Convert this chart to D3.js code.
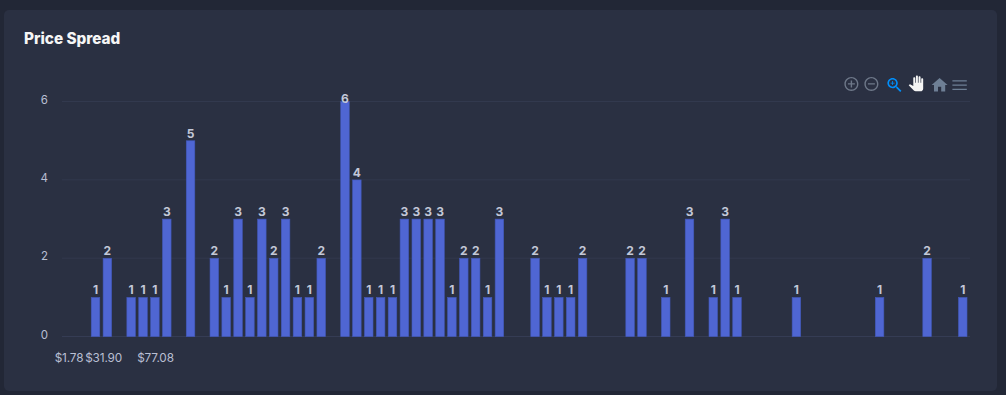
<!DOCTYPE html>
<html lang="en">

<head>
    <meta charset="utf-8">
    <script src="https://d3js.org/d3.v7.min.js"></script>
    <style>
        html, body {
            margin: 0;
            background: #222736;
            overflow: hidden;
        }
        text {
            font-family: "Inter", "Open Sans", sans-serif;
        }
    </style>
</head>

<body>
    <script>
        // number of listings per price bin, zero bins are gaps in the chart
        const counts = [1, 2, 0, 1, 1, 1, 3, 0, 5, 0, 2, 1, 3, 1, 3, 2, 3, 1, 1, 2, 0, 6, 4, 1, 1, 1, 3, 3, 3, 3, 1, 2, 2, 1, 3, 0, 0, 2, 1, 1, 1, 2, 0, 0, 0, 2, 2, 0, 1, 0, 3, 0, 1, 3, 1, 0, 0, 0, 0, 1, 0, 0, 0, 0, 0, 0, 1, 0, 0, 0, 2, 0, 0, 1];
        const priceTicks = [1.78, 31.90, 77.08];
        const yTicks = [0, 2, 4, 6];
        const title = "Price Spread";

        const width = 1006;
        const height = 395;

        const svg = d3.select("body").append("svg")
            .attr("width", width)
            .attr("height", height)
            .style("display", "block");

        // card
        svg.append("rect")
            .attr("x", 4).attr("y", 10)
            .attr("width", 993).attr("height", 381)
            .attr("rx", 5)
            .attr("fill", "#2a3042");

        svg.append("text")
            .attr("x", 24).attr("y", 44)
            .attr("font-size", 15.3)
            .attr("font-weight", 800)
            .attr("fill", "#f6f6f6")
            .text(title);

        const x = d3.scaleBand()
            .domain(d3.range(counts.length))
            .range([89.56, 968.68])
            .paddingInner(0.28)
            .paddingOuter(0.14);

        const y = d3.scaleLinear().domain([0, 6]).range([336, 101]);
        // bars start half a pixel under the gridlines
        const yBar = d3.scaleLinear().domain([0, 6]).range([336.6, 101.6]);

        // tick labels sit on a price scale, not on the bins
        const xPrice = d3.scaleLinear().domain([1.78, 77.08]).range([68.5, 155]);

        const gridLeft = 62;
        const gridRight = 970;

        svg.append("g")
            .selectAll("line")
            .data(yTicks)
            .enter()
            .append("line")
            .attr("x1", gridLeft)
            .attr("x2", gridRight)
            .attr("y1", d => y(d) + 0.5)
            .attr("y2", d => y(d) + 0.5)
            .attr("stroke", d => d === 0 ? "#353c54" : "#32394e");

        const yAxis = d3.axisLeft(y).tickValues(yTicks).tickFormat(d3.format("d")).tickSize(0).tickPadding(0);
        const yG = svg.append("g")
            .attr("transform", "translate(48,0)")
            .call(yAxis);
        yG.select(".domain").remove();
        yG.selectAll("text")
            .attr("font-size", 11.5)
            .attr("fill", "#b9bfd3")
            .attr("dy", "0.2em");

        const xAxis = d3.axisBottom(xPrice)
            .tickValues(priceTicks)
            .tickFormat(d => "$" + d.toFixed(2))
            .tickSize(0)
            .tickPadding(0);
        const xG = svg.append("g")
            .attr("transform", "translate(0,354)")
            .call(xAxis);
        xG.select(".domain").remove();
        xG.selectAll("text")
            .attr("font-size", 11.8)
            .attr("letter-spacing", -0.15)
            .attr("fill", "#b9bfd3");

        const bars = counts.map((d, i) => ({ i: i, v: d })).filter(d => d.v > 0);

        svg.append("g")
            .selectAll("rect")
            .data(bars)
            .enter()
            .append("rect")
            .attr("x", d => x(d.i))
            .attr("y", d => yBar(d.v))
            .attr("width", x.bandwidth())
            .attr("height", d => yBar(0) - yBar(d.v))
            .attr("fill", "#4f66d3")
            .attr("stroke", "#4258b8")
            .attr("stroke-width", 0.6);

        // labels stay inside the plot, the tallest bar's label drops onto the bar
        svg.append("g")
            .selectAll("text")
            .data(bars)
            .enter()
            .append("text")
            .attr("x", d => x(d.i) + x.bandwidth() / 2)
            .attr("y", d => Math.max(y(d.v) - 2.5, y(6) + 1.5))
            .attr("text-anchor", "middle")
            .attr("font-size", 12)
            .attr("font-weight", 700)
            .attr("fill", "#c3c8d8")
            .text(d => d.v);

        // toolbar icons, 24 unit material paths
        const toolbar = [
            { x: 843, s: 0.7, fill: "#6e7889", d: "M13 7h-2v4H7v2h4v4h2v-4h4v-2h-4V7zm-1-5C6.48 2 2 6.48 2 12s4.48 10 10 10 10-4.48 10-10S17.52 2 12 2zm0 18c-4.41 0-8-3.59-8-8s3.59-8 8-8 8 3.59 8 8-3.59 8-8 8z" },
            { x: 863, s: 0.7, fill: "#6e7889", d: "M7 11v2h10v-2H7zm5-9C6.48 2 2 6.48 2 12s4.48 10 10 10 10-4.48 10-10S17.52 2 12 2zm0 18c-4.41 0-8-3.59-8-8s3.59-8 8-8 8 3.59 8 8-3.59 8-8 8z" },
            { x: 885, s: 0.8, fill: "#008ffb", d: "M15.5 14h-.79l-.28-.27C15.41 12.59 16 11.11 16 9.5 16 5.91 13.09 3 9.5 3S3 5.91 3 9.5 5.91 16 9.5 16c1.61 0 3.09-.59 4.23-1.57l.27.28v.79l5 4.99L20.49 19l-4.99-5zm-6 0C7.01 14 5 11.99 5 9.5S7.01 5 9.5 5 14 7.01 14 9.5 11.99 14 9.5 14zM12 10h-2v2H9v-2H7V9h2V7h1v2h2v1z" },
            { x: 908, s: 0.66, fill: "#f4f4f4", d: "M23 5.5V20c0 2.2-1.8 4-4 4h-7.3c-1.08 0-2.1-.43-2.85-1.19L1 14.83s1.26-1.23 1.3-1.25c.22-.19.49-.29.79-.29.22 0 .42.06.6.16.04.01 4.31 2.46 4.31 2.46V4c0-.83.67-1.5 1.5-1.5S11 3.17 11 4v7h1V1.5c0-.83.67-1.5 1.5-1.5S15 .67 15 1.5V11h1V2.5c0-.83.67-1.5 1.5-1.5s1.5.67 1.5 1.5V11h1V5.5c0-.83.67-1.5 1.5-1.5s1.5.67 1.5 1.5z" },
            { x: 930, s: 0.8, fill: "#6e7f95", d: "M10 20v-6h4v6h5v-8h3L12 3 2 12h3v8z" },
            { x: 950, s: 0.8, fill: "#6e7f95", d: "M3 18h18v-1.4H3V18zm0-5.3h18v-1.4H3v1.4zM3 6v1.4h18V6H3z" }
        ];

        svg.append("g")
            .selectAll("path")
            .data(toolbar)
            .enter()
            .append("path")
            .attr("transform", d => "translate(" + d.x + ",75.5) scale(" + d.s + ")")
            .attr("fill", d => d.fill)
            .attr("d", d => d.d);
    </script>
</body>

</html>
